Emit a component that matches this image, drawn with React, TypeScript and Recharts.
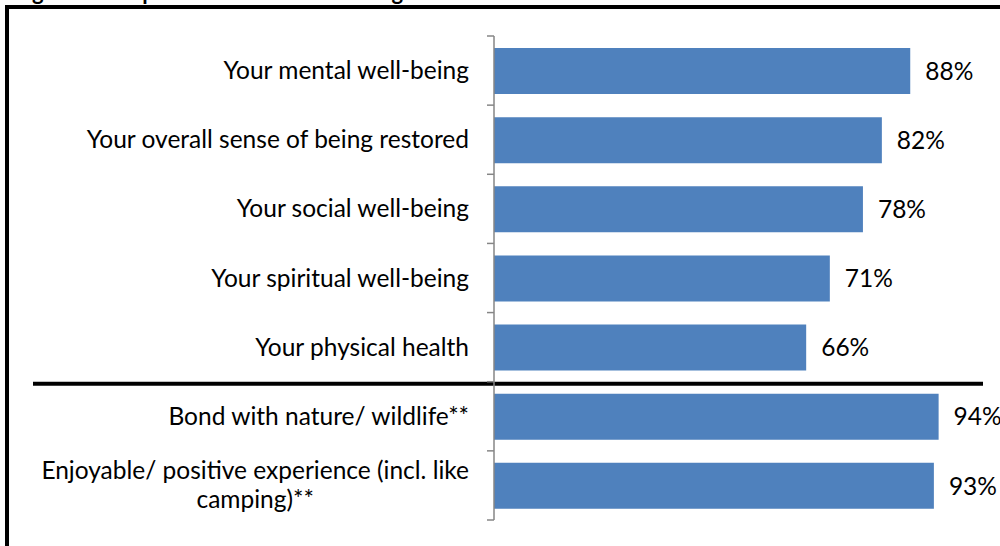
import React from "react";
import { BarChart, Bar, XAxis, YAxis, LabelList, ReferenceLine } from "recharts";

const categories = [
  "Your mental well-being",
  "Your overall sense of being restored",
  "Your social well-being",
  "Your spiritual well-being",
  "Your physical health",
  "Bond with nature/ wildlife**",
  "Enjoyable/ positive experience (incl. like camping)**",
];
const values = [88, 82, 78, 71, 66, 94, 93];
const separatorAfter = "Your physical health";
const titleText = "Figure 10: Impact on Overall Well-being";

const data = categories.map((c, i) => ({ category: c, value: values[i] }));

const W = 1000;
const H = 546;
const MARGIN = { top: 36, right: 33, bottom: 26, left: 0 };
const AXIS_W = 494;
const BAND = (H - MARGIN.top - MARGIN.bottom) / categories.length;
const FONT = "Lato, 'Open Sans', sans-serif";
const FS = 24.5;
const LABEL_RIGHT = AXIS_W - 25;
const MAX_LABEL_W = 445;
const LINE_H = 29;
const AXIS_GRAY = "#868686";

let ctx: CanvasRenderingContext2D | null = null;
function measure(t: string): number {
  if (!ctx) {
    const c = document.createElement("canvas");
    ctx = c.getContext("2d");
  }
  if (!ctx) return t.length * FS * 0.5;
  ctx.font = `${FS}px Lato`;
  return ctx.measureText(t).width;
}

function wrap(label: string): string[] {
  const words = label.split(" ");
  const lines: string[] = [];
  let cur = "";
  for (const w of words) {
    const next = cur ? cur + " " + w : w;
    if (cur && measure(next) > MAX_LABEL_W) {
      lines.push(cur);
      cur = w;
    } else cur = next;
  }
  if (cur) lines.push(cur);
  return lines;
}

function CategoryTick(props: any) {
  const { y, payload, index } = props;
  const lines = wrap(String(payload.value));
  const capHalf = 8.5;
  const top = y - BAND / 2;
  const bottom = y + BAND / 2;
  let texts: React.ReactNode;
  if (lines.length === 1) {
    texts = (
      <text x={LABEL_RIGHT} y={y + capHalf} textAnchor="end" fontFamily={FONT} fontSize={FS} fill="#000">
        {lines[0]}
      </text>
    );
  } else {
    const blockW = Math.max(...lines.map(measure));
    const cx = LABEL_RIGHT - blockW / 2;
    const start = y + capHalf - ((lines.length - 1) * LINE_H) / 2;
    texts = lines.map((l, i) => (
      <text key={i} x={cx} y={start + i * LINE_H} textAnchor="middle" fontFamily={FONT} fontSize={FS} fill="#000">
        {l}
      </text>
    ));
  }
  return (
    <g>
      <line x1={AXIS_W - 7} x2={AXIS_W} y1={top} y2={top} stroke={AXIS_GRAY} strokeWidth={1.5} />
      {index === categories.length - 1 && (
        <line x1={AXIS_W - 7} x2={AXIS_W} y1={bottom} y2={bottom} stroke={AXIS_GRAY} strokeWidth={1.5} />
      )}
      {texts}
    </g>
  );
}

function SeparatorShape(props: any) {
  const y = (props.y1 ?? 0) + 2;
  return <line x1={33} x2={983} y1={y} y2={y} stroke="#000" strokeWidth={4} />;
}

export default function App() {
  return (
    <div style={{ position: "fixed", left: 0, top: 0, width: W, height: H, overflow: "hidden", background: "#fff" }}>
      <div
        style={{
          position: "absolute",
          left: 14,
          top: -22,
          fontFamily: FONT,
          fontWeight: 700,
          fontSize: 22,
          whiteSpace: "nowrap",
          color: "#000",
        }}
      >
        {titleText}
      </div>
      <div
        style={{
          position: "absolute",
          left: 5,
          top: 5,
          width: W + 20,
          height: H + 20,
          border: "4px solid #000",
          boxSizing: "border-box",
        }}
      />
      <div style={{ position: "absolute", left: 0, top: 0 }}>
        <BarChart width={W} height={H} data={data} layout="vertical" margin={MARGIN}>
          <XAxis type="number" domain={[0, 100]} hide />
          <YAxis
            type="category"
            dataKey="category"
            width={AXIS_W}
            axisLine={{ stroke: AXIS_GRAY, strokeWidth: 1.5 }}
            tickLine={false}
            tick={<CategoryTick />}
            interval={0}
          />
          <Bar dataKey="value" fill="#4F81BD" barSize={46} isAnimationActive={false}>
            <LabelList
              dataKey="value"
              position="right"
              offset={15}
              formatter={(v: any) => `${v}%`}
              style={{ fontFamily: FONT, fontSize: FS, fill: "#000" }}
            />
          </Bar>
          <ReferenceLine y={separatorAfter} position="end" shape={<SeparatorShape />} ifOverflow="visible" />
        </BarChart>
      </div>
    </div>
  );
}
